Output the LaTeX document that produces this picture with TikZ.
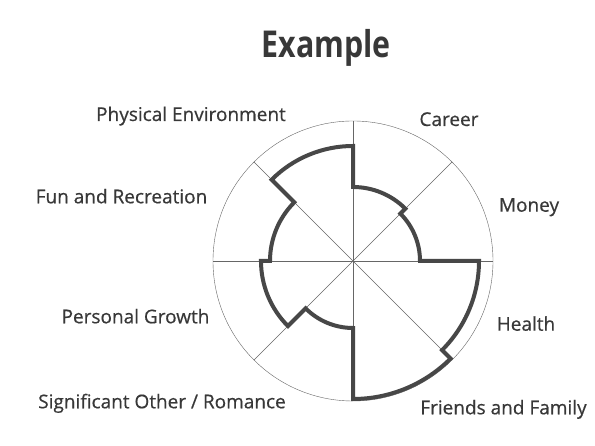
\documentclass[tikz,border=0pt]{standalone}
\usepackage{fontspec}
\setmainfont{Open Sans}
\begin{document}
\begin{tikzpicture}[x=1pt,y=1pt,font=\fontsize{19}{22}\selectfont\addfontfeature{FakeBold=0.5},text=black!78]
	\useasboundingbox[fill=white] (0,0) rectangle (595,446);
	\coordinate (o) at (353,185);

	\node[font=\bfseries\fontsize{37}{40}\selectfont, anchor=base, xscale=0.82, transform shape] (title) at (326,388.5) {Example};

	\node[anchor=base] (phys) at (191,325) {Physical Environment};
	\node[anchor=base] (fun) at (121.5,242.7) {Fun and Recreation};
	\node[anchor=base] (growth) at (135.5,122.7) {Personal Growth};
	\node[anchor=base] (romance) at (162,37.7) {Significant Other / Romance};
	\node[anchor=base] (career) at (449,320) {Career};
	\node[anchor=base] (money) at (529,234.3) {Money};
	\node[anchor=base] (health) at (526,115.3) {Health};
	\node[anchor=base] (family) at (503.5,31.7) {Friends and Family};

	\begin{scope}[shift={(o)}]
	\draw[black!60] (0,0) circle[radius=140];
	\draw[black!60] (0:140) -- (180:140);
	\draw[black!60] (45:140) -- (225:140);
	\draw[black!60] (90:140) -- (270:140);
	\draw[black!60] (135:140) -- (315:140);

	\draw[line width=4pt, black!72, line join=miter]
		(90:74) arc[start angle=90, end angle=45, radius=74]
		-- (45:67) arc[start angle=45, end angle=0, radius=67]
		-- (0:126) arc[start angle=0, end angle=-45, radius=126]
		-- (-45:138) arc[start angle=-45, end angle=-90, radius=138]
		-- (-90:67) arc[start angle=-90, end angle=-135, radius=67]
		-- (-135:92) arc[start angle=-135, end angle=-180, radius=92]
		-- (180:83) arc[start angle=180, end angle=135, radius=83]
		-- (135:115) arc[start angle=135, end angle=90, radius=115]
		-- cycle;
	\end{scope}
\end{tikzpicture}
\end{document}
